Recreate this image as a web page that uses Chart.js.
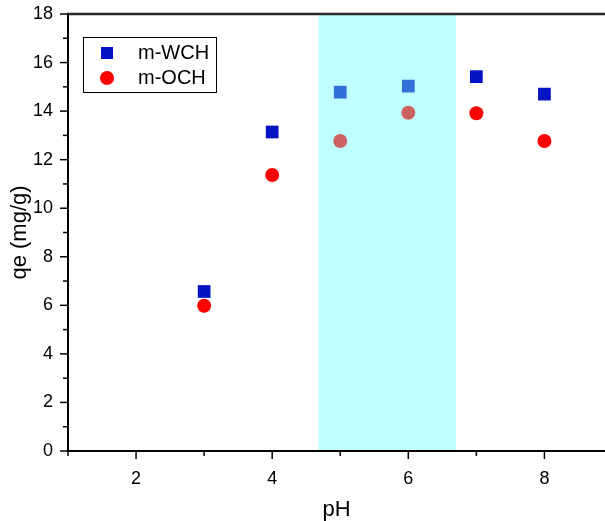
<!DOCTYPE html>
<html><head><meta charset="utf-8">
<script src="https://cdn.jsdelivr.net/npm/chart.js@4"></script>
<style>html,body{margin:0;padding:0;background:#fff}</style>
</head><body>
<canvas id="c" width="605" height="521"></canvas>
<script>
// ---- data ----
const pH = [3, 4, 5, 6, 7, 8];
const qeWCH = [6.57, 13.14, 14.78, 15.03, 15.42, 14.70];
const qeOCH = [5.98, 11.37, 12.77, 13.93, 13.91, 12.77];
const seriesNames = ['m-WCH', 'm-OCH'];
const xTicks = [2, 4, 6, 8];
const xMinorTicks = [1, 3, 5, 7];
const yTicks = [0, 2, 4, 6, 8, 10, 12, 14, 16, 18];
const yMinorTicks = [1, 3, 5, 7, 9, 11, 13, 15, 17];
const shadeRange = [4.68, 6.70];
const xRange = [1, 8.89];
const yRange = [0, 18];

const FONT = "'Liberation Sans', Arial, sans-serif";
Chart.defaults.color = '#000';
Chart.defaults.font.family = FONT;

const inShade = v => v >= shadeRange[0] && v <= shadeRange[1];
const colWCH = ctx => inShade(pH[ctx.dataIndex]) ? '#3070d8' : '#0414c4';
const colOCH = ctx => inShade(pH[ctx.dataIndex]) ? '#cc6262' : '#ff0000';

const deco = {
  id: 'deco',
  beforeDraw(chart) {
    const { ctx, chartArea: a, scales: { x } } = chart;
    const x0 = x.getPixelForValue(shadeRange[0]), x1 = x.getPixelForValue(shadeRange[1]);
    ctx.save();
    ctx.fillStyle = '#c0ffff';
    ctx.fillRect(x0, a.top, x1 - x0, a.bottom - a.top);
    ctx.restore();
  },
  afterDraw(chart) {
    const { ctx, chartArea: a, scales: { x, y } } = chart;
    ctx.save();
    // top frame line
    ctx.strokeStyle = '#2a2a2a'; ctx.lineWidth = 2.5;
    ctx.beginPath(); ctx.moveTo(a.left - 1, a.top); ctx.lineTo(a.right, a.top); ctx.stroke();
    // tick marks
    ctx.strokeStyle = '#000'; ctx.lineWidth = 1.5;
    const yt = (v, len) => { const p = y.getPixelForValue(v); ctx.beginPath(); ctx.moveTo(a.left - len, p); ctx.lineTo(a.left, p); ctx.stroke(); };
    const xt = (v, len) => { const p = x.getPixelForValue(v); ctx.beginPath(); ctx.moveTo(p, a.bottom); ctx.lineTo(p, a.bottom + len); ctx.stroke(); };
    yTicks.forEach(v => yt(v, 8)); yMinorTicks.forEach(v => yt(v, 5));
    xTicks.forEach(v => xt(v, 8)); xMinorTicks.forEach(v => xt(v, 5));
    // legend
    ctx.lineWidth = 1; ctx.strokeStyle = '#000';
    ctx.strokeRect(83.5, 37.5, 133, 55);
    ctx.fillStyle = '#0414c4';
    ctx.fillRect(101, 47, 12, 12);
    ctx.fillStyle = '#ff0000';
    ctx.beginPath(); ctx.arc(107, 78, 7, 0, Math.PI * 2); ctx.fill();
    ctx.fillStyle = '#000'; ctx.font = '20px ' + FONT; ctx.textBaseline = 'middle';
    ctx.fillText(seriesNames[0], 138, 53);
    ctx.fillText(seriesNames[1], 138, 78);
    ctx.restore();
  }
};

new Chart(document.getElementById('c'), {
  type: 'scatter',
  data: {
    datasets: [
      { label: seriesNames[0], data: pH.map((v, i) => ({ x: v, y: qeWCH[i] })),
        pointStyle: 'rect', pointRadius: 9, pointHoverRadius: 9, borderWidth: 0,
        backgroundColor: colWCH, borderColor: colWCH },
      { label: seriesNames[1], data: pH.map((v, i) => ({ x: v, y: qeOCH[i] })),
        pointStyle: 'circle', pointRadius: 7, pointHoverRadius: 7, borderWidth: 0,
        backgroundColor: colOCH, borderColor: colOCH }
    ]
  },
  options: {
    responsive: false, animation: false, events: [],
    layout: { autoPadding: false, padding: { top: 14, right: 0, left: 0, bottom: 0 } },
    plugins: { legend: { display: false }, tooltip: { enabled: false } },
    scales: {
      x: {
        type: 'linear', min: xRange[0], max: xRange[1],
        afterBuildTicks: s => { s.ticks = xTicks.map(v => ({ value: v })); },
        afterFit: s => { s.height = 70; s.paddingLeft = 0; s.paddingRight = 0; },
        grid: { display: false, drawTicks: false },
        border: { display: true, color: '#000', width: 2 },
        ticks: { font: { size: 18 }, padding: 17, color: '#000', maxRotation: 0 },
        title: { display: true, text: 'pH', font: { size: 22, lineHeight: 1 }, padding: { top: 0, bottom: 0 }, color: '#000' }
      },
      y: {
        type: 'linear', min: yRange[0], max: yRange[1],
        afterBuildTicks: s => { s.ticks = yTicks.map(v => ({ value: v })); },
        afterFit: s => { s.width = 68; s.paddingTop = 0; s.paddingBottom = 0; },
        grid: { display: false, drawTicks: false },
        border: { display: true, color: '#000', width: 2 },
        ticks: { font: { size: 18 }, padding: 15, color: '#000' },
        title: { display: true, text: 'qe (mg/g)', font: { size: 22, lineHeight: 1 }, padding: { top: 9, bottom: 0 }, color: '#000' }
      }
    }
  },
  plugins: [deco]
});
</script>
</body></html>
